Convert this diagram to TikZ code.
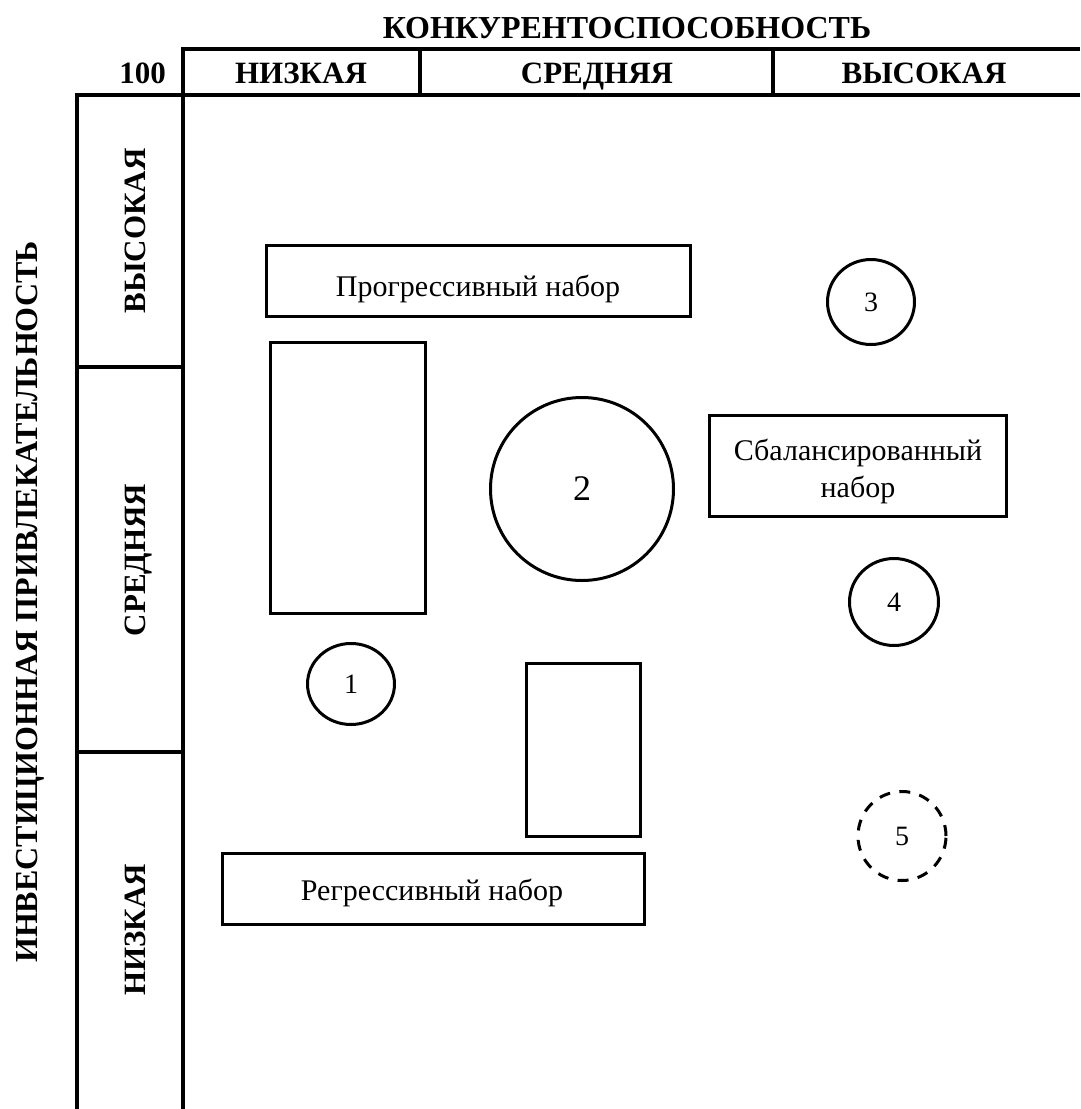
\documentclass[tikz,border=0pt]{standalone}
\usepackage{fontspec}
\setmainfont{Liberation Serif}
\usetikzlibrary{shapes.geometric}
\begin{document}
\begin{tikzpicture}[x=1pt,y=-1pt,
  frame/.style={line width=3.8pt, line join=miter},
  shp/.style={draw, line width=3pt, inner sep=0pt, outer sep=0pt},
  rbox/.style={shp, rectangle},
  oval/.style={shp, ellipse},
  dashedoval/.style={oval, dash pattern=on 11pt off 9.4pt},
  hdr/.style={font=\fontsize{31}{36}\selectfont\bfseries, anchor=base, inner sep=0pt},
  bigl/.style={font=\fontsize{32}{38}\selectfont\bfseries, anchor=base, inner sep=0pt},
  txt/.style={font=\fontsize{30}{34}\selectfont, anchor=base, inner sep=0pt},
  num/.style={font=\fontsize{28}{32}\selectfont, inner sep=0pt},
]
\useasboundingbox (0,0) rectangle (1080,1109);

% frame
\draw[frame] (1080,49) -- (183,49) -- (183,1109);
\draw[frame] (1080,95) -- (77,95) -- (77,1109);
\draw[frame] (420,49) -- (420,95);
\draw[frame] (773,49) -- (773,95);
\draw[frame] (77,367) -- (183,367);
\draw[frame] (77,752) -- (183,752);

% header texts
\node[bigl] (title) at (627,38) {КОНКУРЕНТОСПОСОБНОСТЬ};
\node[hdr, anchor=base east] (hundred) at (166,83) {100};
\node[hdr] (cl) at (301,83) {НИЗКАЯ};
\node[hdr] (cm) at (597,83) {СРЕДНЯЯ};
\node[hdr] (ch) at (924,83) {ВЫСОКАЯ};

% left column
\node[bigl, rotate=90] (ylabel) at (37,602) {ИНВЕСТИЦИОННАЯ ПРИВЛЕКАТЕЛЬНОСТЬ};
\node[hdr, rotate=90] (rh) at (145,231) {ВЫСОКАЯ};
\node[hdr, rotate=90] (rm) at (145,560) {СРЕДНЯЯ};
\node[hdr, rotate=90] (rl) at (145,930) {НИЗКАЯ};

% boxes
\node[rbox, minimum width=424pt, minimum height=71pt] (prog) at (478.5,281) {};
\node[txt] (progt) at (478,296) {Прогрессивный набор};
\node[rbox, minimum width=155pt, minimum height=271pt] (tall1) at (348,478) {};
\node[oval, minimum width=183pt, minimum height=183pt] (c2) at (582,489) {};
\node[num, font=\fontsize{36}{40}\selectfont] (c2t) at (c2.center) {2};
\node[rbox, minimum width=297pt, minimum height=101pt] (bal) at (858,466) {};
\node[txt] (balt1) at (858,460) {Сбалансированный};
\node[txt] (balt2) at (858,497) {набор};
\node[oval, minimum width=87pt, minimum height=85pt] (c3) at (871,302) {};
\node[num] (c3t) at (c3.center) {3};
\node[oval, minimum width=89pt, minimum height=87pt] (c4) at (894,602) {};
\node[num] (c4t) at (c4.center) {4};
\node[oval, minimum width=87pt, minimum height=81pt] (c1) at (351,684) {};
\node[num] (c1t) at (c1.center) {1};
\node[rbox, minimum width=114pt, minimum height=173pt] (tall2) at (583.5,750) {};
\node[dashedoval, minimum width=88pt, minimum height=89pt] (c5) at (902,836) {};
\node[num] (c5t) at (c5.center) {5};
\node[rbox, minimum width=422pt, minimum height=71pt] (reg) at (433.5,889) {};
\node[txt] (regt) at (432,900) {Регрессивный набор};
\end{tikzpicture}
\end{document}
